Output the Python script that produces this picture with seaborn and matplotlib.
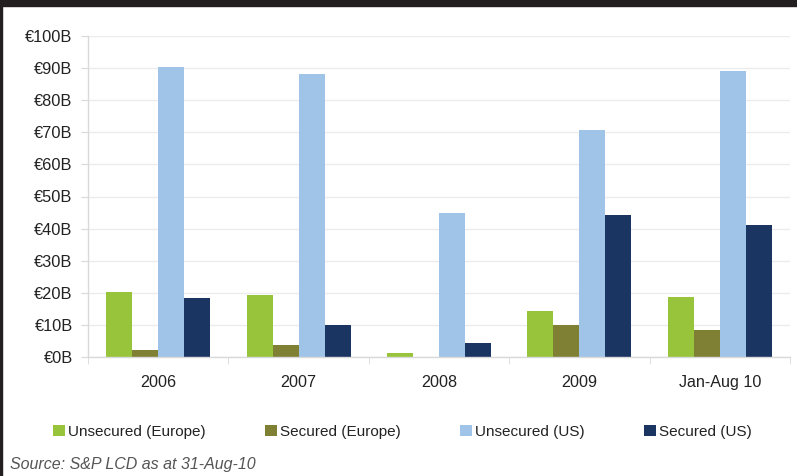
import matplotlib
matplotlib.use("Agg")
import matplotlib.pyplot as plt
import seaborn as sns
import pandas as pd
from matplotlib.patches import Rectangle
from matplotlib.ticker import FixedLocator

# Données (milliards d'euros)
periodes = ["2006", "2007", "2008", "2009", "Jan-Aug 10"]
series = ["Unsecured (Europe)", "Secured (Europe)", "Unsecured (US)", "Secured (US)"]
unsecured_europe = [20.2, 19.4, 1.2, 14.3, 18.7]
secured_europe = [2.2, 3.7, 0.0, 10.0, 8.4]
unsecured_us = [90.4, 88.2, 45.0, 70.7, 89.1]
secured_us = [18.4, 10.0, 4.4, 44.2, 41.1]
couleurs = ["#98c43c", "#7f8034", "#a0c4e8", "#1b3562"]
source = "Source: S&P LCD as at 31-Aug-10"

valeurs = [unsecured_europe, secured_europe, unsecured_us, secured_us]
df = pd.DataFrame(
    [(p, s, v[i]) for s, v in zip(series, valeurs) for i, p in enumerate(periodes)],
    columns=["periode", "serie", "valeur"],
)

sns.set_style("white")
plt.rcParams["font.family"] = ["Liberation Sans", "DejaVu Sans"]

fig = plt.figure(figsize=(7.97, 4.76), dpi=100)
ax = fig.add_axes([88 / 797, 1 - 357 / 476, (790 - 88) / 797, (357 - 36) / 476])

sns.barplot(data=df, x="periode", y="valeur", hue="serie", palette=couleurs,
            saturation=1, width=0.74, gap=0, edgecolor="none", ax=ax, legend=True)

ax.set_ylim(0, 100)
ax.set_xlim(-0.5, 4.5)
ax.set_yticks(range(0, 101, 10))
ax.set_yticklabels([f"€{v}B" for v in range(0, 101, 10)], fontsize=11.8, color="#222222")
ax.set_xticks(range(len(periodes)))
ax.set_xticklabels(periodes, fontsize=11.6, color="#222222")
ax.set_xlabel("")
ax.set_ylabel("")
ax.yaxis.grid(True, color="#ececec", linewidth=1)
ax.set_axisbelow(True)

for cote in ["top", "right"]:
    ax.spines[cote].set_visible(False)
for cote in ["left", "bottom"]:
    ax.spines[cote].set_color("#d9d9d9")
    ax.spines[cote].set_linewidth(1)

ax.tick_params(axis="y", length=5, color="#d9d9d9", pad=6, left=True)
ax.tick_params(axis="x", which="major", length=0, pad=13)
ax.xaxis.set_minor_locator(FixedLocator([i - 0.5 for i in range(len(periodes) + 1)]))
ax.tick_params(axis="x", which="minor", length=5, color="#d9d9d9", bottom=True)

# Légende en bas
handles, labels = ax.get_legend_handles_labels()
ax.get_legend().remove()
fig.legend(handles, labels, loc="center", bbox_to_anchor=(0.505, 1 - 432 / 476),
           ncol=4, frameon=False, fontsize=11, handlelength=0.78, handleheight=0.78,
           handletextpad=0.2, columnspacing=3.9, labelcolor="#222222")

fig.text(10 / 797, 1 - 465 / 476, source, fontsize=11.5, style="italic",
         color="#555555", va="center", ha="left")

# Bandes sombres en haut et à gauche
fig.patches.append(Rectangle((0, 1 - 6 / 476), 1, 6 / 476, transform=fig.transFigure,
                             color="#231f20", zorder=10))
fig.patches.append(Rectangle((0, 0), 1.5 / 797, 1, transform=fig.transFigure,
                             color="#231f20", zorder=10))

fig.savefig("out.png", dpi=100)
